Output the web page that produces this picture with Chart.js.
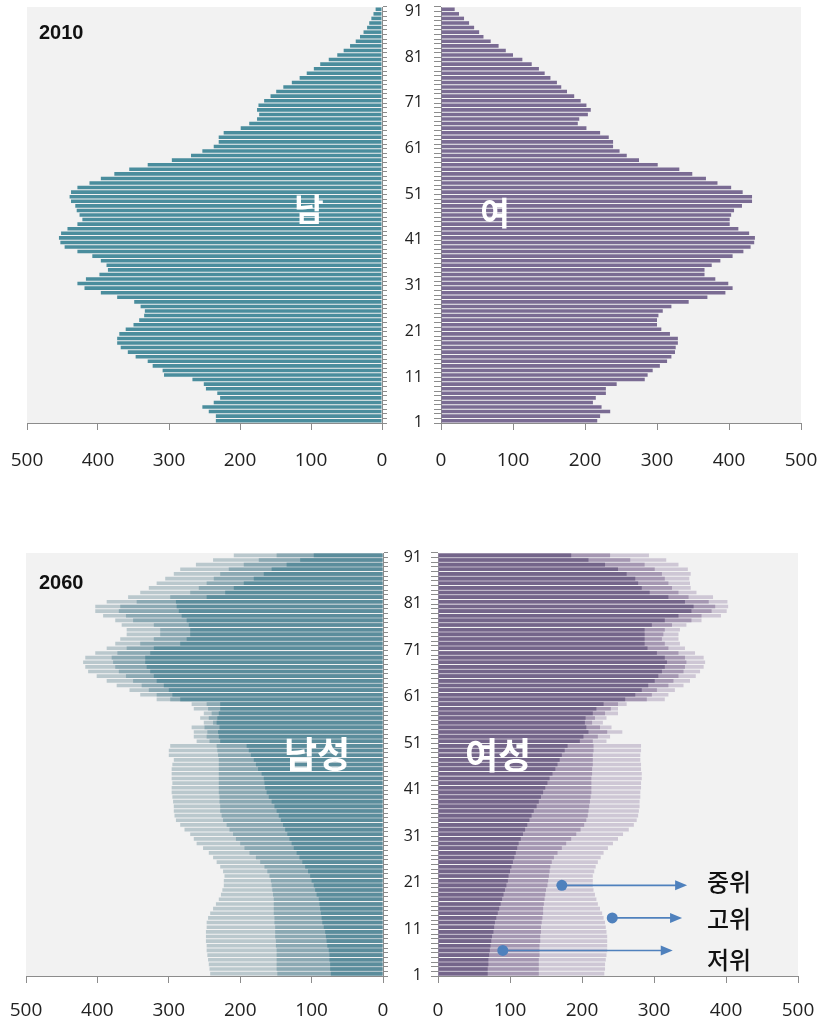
<!DOCTYPE html>
<html>
<head>
<meta charset="utf-8">
<script src="https://cdn.jsdelivr.net/npm/chart.js@4.4.1/dist/chart.umd.min.js"></script>
<style>
  body { margin: 0; background: #fff; }
  #page { position: relative; width: 822px; height: 1026px; overflow: hidden; }
  #page canvas { position: absolute; }
  .year { position: absolute; left: 39px; font: bold 20px 'Liberation Sans', Arial, sans-serif; line-height: 20px; color: #111; }
  .note { position: absolute; transform: translate(-50%, -50%); line-height: 1; white-space: nowrap;
          font-family: 'Noto Sans CJK KR', sans-serif; }
  .sex { color: #fff; font-weight: 700; }
  .lvl { color: #111; font-size: 24px; font-weight: 500; }
</style>
</head>
<body>
<div id="page">
  <canvas id="m2010" width="411" height="480" style="left:0;top:0"></canvas>
  <canvas id="f2010" width="432" height="480" style="left:390px;top:0"></canvas>
  <canvas id="m2060" width="411" height="506" style="left:0;top:520px"></canvas>
  <canvas id="f2060" width="432" height="506" style="left:390px;top:520px"></canvas>

  <div class="year" style="top:22px">2010</div>
  <div class="year" style="top:572px">2060</div>
  <div class="note sex" style="left:309px;top:207px;font-size:32px">남</div>
  <div class="note sex" style="left:495px;top:211px;font-size:32px">여</div>
  <div class="note sex" style="left:317px;top:752px;font-size:36px">남성</div>
  <div class="note sex" style="left:498px;top:753px;font-size:36px">여성</div>
  <div class="note lvl" style="left:729px;top:881px">중위</div>
  <div class="note lvl" style="left:729px;top:918px">고위</div>
  <div class="note lvl" style="left:729px;top:959px">저위</div>
</div>

<script>
// 나이 1..91 (아래에서 위로)
const ages = Array.from({ length: 91 }, (_, i) => String(i + 1));

// 2010 인구 (천명), 나이 1..91 순서
const male2010 = [
  234, 234, 244, 253, 237, 228, 232, 248, 251, 267,
  307, 309, 323, 330, 347, 358, 368, 373, 373, 370,
  361, 350, 342, 335, 334, 340, 349, 373, 396, 419,
  429, 417, 398, 386, 388, 396, 408, 429, 447, 453,
  455, 452, 443, 429, 422, 426, 430, 432, 438, 440,
  438, 429, 412, 396, 377, 356, 330, 296, 269, 253,
  237, 230, 230, 223, 199, 187, 176, 173, 176, 174,
  166, 157, 149, 139, 127, 116, 106, 96, 87, 75,
  63, 54, 45, 37, 31, 26, 21, 18, 15, 12, 9
];
const female2010 = [
  217, 221, 235, 223, 211, 215, 229, 229, 244, 283,
  287, 294, 304, 314, 320, 325, 326, 329, 329, 318,
  306, 300, 300, 302, 308, 320, 344, 370, 395, 405,
  399, 381, 366, 366, 376, 388, 405, 420, 430, 435,
  436, 428, 413, 401, 401, 403, 407, 418, 432, 432,
  419, 403, 384, 368, 349, 331, 301, 275, 258, 248,
  239, 239, 233, 221, 202, 190, 192, 204, 208, 202,
  194, 185, 175, 167, 161, 152, 144, 136, 126, 113,
  100, 90, 80, 69, 59, 53, 46, 39, 32, 25, 19
];

// 2060 추계: 저위 / 중위 / 고위
const male2060Low = [
  73, 74, 74, 75, 75, 76, 78, 79, 80, 81,
  83, 85, 86, 87, 88, 89, 90, 93, 95, 97,
  100, 102, 105, 109, 113, 117, 121, 125, 128, 131,
  134, 137, 140, 143, 146, 149, 152, 156, 160, 163,
  165, 166, 167, 170, 175, 178, 181, 185, 188, 191,
  228, 230, 231, 229, 233, 232, 230, 228, 228, 284,
  295, 300, 307, 317, 321, 326, 331, 333, 333, 326,
  321, 284, 275, 270, 270, 272, 275, 282, 286, 289,
  290, 247, 221, 209, 195, 181, 167, 156, 135, 116, 97
];
const male2060Mid = [
  148, 149, 149, 149, 149, 149, 150, 150, 151, 151,
  151, 152, 152, 153, 153, 153, 153, 154, 155, 156,
  157, 159, 162, 166, 172, 178, 187, 194, 200, 206,
  210, 215, 219, 224, 226, 228, 228, 229, 229, 230,
  230, 230, 230, 230, 230, 230, 230, 231, 232, 233,
  243, 247, 246, 250, 238, 244, 240, 245, 247, 298,
  317, 328, 338, 350, 360, 370, 375, 378, 380, 372,
  359, 340, 321, 312, 312, 321, 350, 360, 370, 368,
  345, 298, 270, 258, 247, 237, 228, 216, 195, 174, 149
];
const male2060High = [
  242, 243, 244, 245, 246, 247, 247, 248, 248, 248,
  247, 247, 245, 242, 238, 234, 230, 227, 225, 223,
  223, 222, 224, 228, 233, 238, 244, 252, 261, 265,
  270, 278, 284, 290, 292, 293, 293, 294, 295, 296,
  296, 295, 296, 296, 296, 295, 293, 300, 300, 298,
  261, 265, 265, 268, 251, 256, 251, 265, 268, 317,
  340, 355, 373, 387, 401, 413, 417, 420, 417, 403,
  387, 375, 368, 359, 359, 366, 375, 392, 403, 403,
  387, 357, 340, 328, 317, 305, 293, 284, 262, 238, 209
];
const female2060Low = [
  69, 69, 70, 70, 71, 72, 73, 74, 75, 77,
  78, 79, 81, 83, 85, 87, 89, 91, 93, 95,
  97, 98, 100, 102, 104, 106, 108, 110, 112, 115,
  118, 121, 124, 127, 130, 133, 137, 140, 143, 146,
  149, 152, 155, 159, 163, 166, 169, 172, 176, 180,
  197, 202, 209, 206, 204, 205, 215, 220, 230, 260,
  274, 283, 292, 301, 306, 311, 315, 318, 315, 304,
  291, 287, 287, 287, 287, 297, 315, 334, 352, 355,
  343, 320, 294, 283, 278, 274, 262, 250, 232, 209, 185
];
const female2060Mid = [
  140, 140, 140, 140, 141, 141, 141, 142, 142, 143,
  143, 144, 145, 146, 146, 147, 148, 149, 150, 152,
  153, 154, 155, 156, 158, 161, 166, 172, 178, 185,
  192, 198, 203, 206, 208, 209, 210, 211, 212, 213,
  213, 213, 213, 214, 214, 215, 215, 215, 216, 216,
  215, 222, 235, 225, 214, 218, 232, 240, 250, 290,
  297, 304, 320, 327, 334, 341, 343, 345, 343, 334,
  320, 315, 311, 313, 315, 325, 352, 366, 380, 385,
  376, 348, 334, 325, 320, 315, 311, 301, 287, 267, 239
];
const female2060High = [
  231, 232, 232, 233, 234, 235, 235, 235, 235, 234,
  233, 232, 230, 228, 225, 222, 220, 218, 216, 215,
  215, 215, 217, 219, 222, 226, 230, 236, 243, 250,
  257, 265, 272, 276, 278, 279, 280, 280, 281, 281,
  282, 282, 283, 283, 282, 282, 281, 281, 282, 282,
  234, 239, 256, 241, 229, 234, 250, 250, 262, 315,
  320, 329, 341, 350, 358, 364, 369, 371, 369, 357,
  343, 336, 334, 334, 336, 345, 366, 393, 401, 403,
  402, 382, 359, 351, 350, 349, 351, 347, 334, 317, 293
];

// 화살표 주석 (나이, 시작값, 끝값)
const noteNames = ['중위', '고위', '저위'];
const noteAges = ['20', '13', '6'];
const noteFrom = [172, 242, 90];
const noteTo = [346, 339, 326];

const axisGrey = '#8c8c8c';
const tickFont = "'Open Sans', 'Noto Sans', sans-serif";
Chart.defaults.font.family = tickFont;

const plotBg = {
  id: 'plotBg',
  beforeDraw(chart) {
    const { ctx, chartArea: a } = chart;
    ctx.save();
    ctx.fillStyle = '#f2f2f2';
    ctx.fillRect(a.left, a.top, a.right - a.left, a.bottom - a.top);
    ctx.restore();
  }
};

const arrowNotes = {
  id: 'arrowNotes',
  afterDatasetsDraw(chart) {
    const { ctx, scales: { x, y } } = chart;
    ctx.save();
    ctx.strokeStyle = '#4f81bd';
    ctx.fillStyle = '#4f81bd';
    ctx.lineWidth = 1.6;
    noteNames.forEach((n, i) => {
      const py = y.getPixelForValue(ages.indexOf(noteAges[i]));
      const x0 = x.getPixelForValue(noteFrom[i]);
      const x1 = x.getPixelForValue(noteTo[i]);
      ctx.beginPath();
      ctx.moveTo(x0, py);
      ctx.lineTo(x1 - 10, py);
      ctx.stroke();
      ctx.beginPath();
      ctx.moveTo(x1, py);
      ctx.lineTo(x1 - 12, py - 5);
      ctx.lineTo(x1 - 12, py + 5);
      ctx.closePath();
      ctx.fill();
      ctx.beginPath();
      ctx.arc(x0, py, 5.5, 0, Math.PI * 2);
      ctx.fill();
    });
    ctx.restore();
  }
};

function pyramid(id, side, sets, box) {
  const left = side === 'left';
  return new Chart(document.getElementById(id), {
    type: 'bar',
    data: {
      labels: ages,
      datasets: sets.map(s => ({
        data: s.data,
        backgroundColor: s.color,
        borderWidth: 0,
        barPercentage: 0.78,
        categoryPercentage: 1,
        grouped: false
      }))
    },
    options: {
      indexAxis: 'y',
      responsive: false,
      animation: false,
      layout: { padding: box.pad },
      plugins: { legend: { display: false }, tooltip: { enabled: false } },
      scales: {
        x: {
          type: 'linear', min: 0, max: 500, reverse: left,
          ticks: { stepSize: 100, padding: box.xPad, maxRotation: 0, color: '#222', font: { size: 19 } },
          grid: { drawOnChartArea: false, tickLength: 7, color: axisGrey },
          border: { color: axisGrey },
          afterFit(s) {
            s.height = box.xHeight;
            s.paddingLeft = s.paddingRight = s.paddingTop = s.paddingBottom = 0;
          }
        },
        y: {
          position: left ? 'right' : 'left',
          reverse: true,
          ticks: {
            display: !left, autoSkip: false, padding: box.yPad, labelOffset: 2,
            color: '#222', font: { size: 16 },
            callback(v) {
              const l = this.getLabelForValue(v);
              return (Number(l) - 1) % 10 === 0 ? l : '';
            }
          },
          grid: { drawOnChartArea: false, tickLength: left ? 5 : 7, color: axisGrey },
          border: { color: axisGrey },
          afterFit(s) {
            s.width = box.yWidth;
            s.paddingLeft = s.paddingRight = s.paddingTop = s.paddingBottom = 0;
          }
        }
      }
    },
    plugins: [plotBg].concat(box.extra || [])
  });
}

pyramid('m2010', 'left', [{ data: male2010, color: '#4a8d9d' }],
  { pad: { left: 27, top: 7, right: 23, bottom: 7 }, yWidth: 6, xHeight: 50, xPad: 19.5 });
pyramid('f2010', 'right', [{ data: female2010, color: '#7a6b93' }],
  { pad: { left: 5, top: 7, right: 21, bottom: 7 }, yWidth: 46, xHeight: 50, xPad: 19.5, yPad: 11 });

pyramid('m2060', 'left', [
  { data: male2060Low, color: '#5b8d9c' },
  { data: male2060Mid, color: '#8ba9b3' },
  { data: male2060High, color: '#bac8cd' }
], { pad: { left: 26, top: 33, right: 22, bottom: 6 }, yWidth: 6, xHeight: 44, xPad: 16.5 });
pyramid('f2060', 'right', [
  { data: female2060Low, color: '#74658a' },
  { data: female2060Mid, color: '#a597b2' },
  { data: female2060High, color: '#cec7d5' }
], { pad: { left: 4, top: 33, right: 24, bottom: 6 }, yWidth: 44, xHeight: 44, xPad: 16.5, yPad: 9, extra: [arrowNotes] });
</script>
</body>
</html>
